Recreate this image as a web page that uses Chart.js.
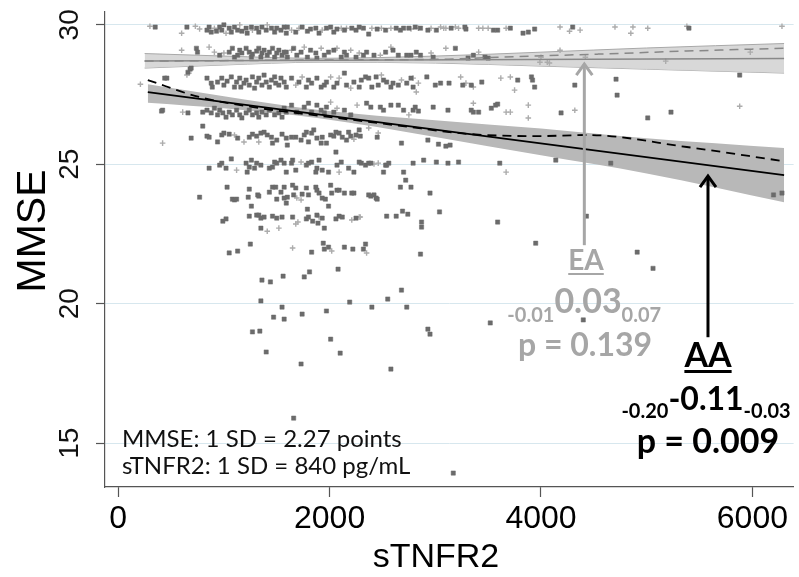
<!DOCTYPE html>
<html lang="en">
<head>
<meta charset="UTF-8">
<title>MMSE vs sTNFR2</title>
<script src="https://cdn.jsdelivr.net/npm/chart.js@4"></script>
<style>
    * { margin: 0; padding: 0; box-sizing: border-box; }
    body { background: #fff; }
    .chart-box { width: 799px; height: 577px; }
</style>
</head>
<body>
<div class="chart-box"><canvas id="mmseChart" width="799" height="577"></canvas></div>
<script>
// axis ranges and ticks
const xMin = -125, xMax = 6390;
const yMin = 13.43, yMax = 30.46;
const xTicks = [0, 2000, 4000, 6000];
const yTicks = [15, 20, 25, 30];

// AA participants (dark squares), grouped by MMSE row
const aaRow30 = [[350,29.92],[650,29.92],[840,29.81],[860,29.92],[880,29.74],[930,29.77],[960,29.92],[980,29.81],[1000,30.0],[1050,29.88],[1070,29.74],[1100,29.92],[1130,29.81],[1170,29.77],[1210,29.88],[1220,29.7],[1260,29.92],[1310,29.88],[1330,29.74],[1360,29.92],[1400,29.81],[1450,29.88],[1480,29.74],[1500,29.88],[1540,29.81],[1570,29.92],[1590,29.7],[1600,29.92],[1680,29.74],[1740,29.92],[1790,29.77],[1820,29.85],[1870,29.88],[1900,29.7],[1970,29.88],[2010,29.92],[2040,29.74],[2070,29.85],[2140,29.81],[2210,29.88],[2250,29.81],[2280,29.92],[2320,29.88],[2370,29.67],[2450,29.85],[2530,29.81],[2630,29.88],[2670,29.81],[2700,29.88],[2750,29.88],[2810,29.92],[2860,29.88],[2930,29.81],[3010,29.81],[3150,29.88],[3280,29.92],[3290,29.85],[3550,29.81],[3590,29.81],[3710,29.88],[3830,29.7],[3880,29.74],[3940,29.85],[4300,29.92],[5400,29.88]];
const aaRow29 = [[740,29.16],[750,29.02],[960,28.91],[1050,29.02],[1080,29.16],[1100,28.84],[1130,28.91],[1150,29.09],[1170,28.99],[1210,29.16],[1240,29.02],[1260,28.84],[1270,28.95],[1310,29.06],[1330,29.16],[1350,28.84],[1360,28.99],[1380,29.09],[1410,28.91],[1430,29.02],[1460,29.16],[1480,28.84],[1500,28.99],[1520,29.09],[1550,28.91],[1570,29.02],[1590,29.02],[1600,28.84],[1660,29.16],[1690,28.91],[1730,29.02],[1790,28.84],[1820,29.09],[1870,28.99],[1880,28.81],[1950,28.91],[1990,29.02],[2040,29.09],[2110,28.84],[2140,29.02],[2160,28.91],[2250,28.84],[2320,28.91],[2350,29.02],[2420,28.91],[2530,29.02],[2600,29.09],[2650,28.91],[2730,28.91],[2770,28.91],[2820,29.02],[2860,28.91],[2980,28.84],[3190,29.16],[3310,28.81],[3360,28.91],[3470,28.84],[3500,28.81]];
const aaRow28 = [[440,28.09],[460,28.09],[660,28.3],[680,28.41],[690,28.45],[840,28.09],[880,27.91],[890,27.77],[940,27.95],[980,28.09],[1000,27.84],[1030,27.98],[1070,28.13],[1100,27.77],[1120,27.95],[1150,28.09],[1160,27.77],[1190,27.91],[1210,28.02],[1240,27.84],[1270,28.13],[1290,27.73],[1310,27.95],[1330,28.09],[1360,27.84],[1380,28.2],[1400,27.95],[1430,27.77],[1450,28.02],[1480,28.13],[1490,27.91],[1520,27.84],[1540,28.09],[1570,27.95],[1590,27.77],[1640,28.09],[1710,27.95],[1780,27.77],[1800,28.02],[1830,27.91],[1880,28.09],[1920,27.77],[1950,27.84],[1970,27.95],[2040,27.77],[2070,27.91],[2140,28.27],[2160,27.84],[2230,27.95],[2280,27.77],[2300,28.02],[2340,28.13],[2370,28.09],[2400,27.77],[2440,28.13],[2460,27.84],[2510,28.02],[2540,27.95],[2580,27.77],[2600,27.91],[2650,27.84],[2730,27.91],[2770,28.09],[2790,27.77],[2920,28.13],[3000,27.84],[3050,27.91],[3130,27.91],[3260,27.84],[3340,27.84],[3440,27.95],[3780,28.02],[3910,28.13],[3920,28.02],[3940,27.77],[4320,27.84],[4710,28.05],[4720,27.48],[5880,28.2]];
const aaRow27 = [[410,26.91],[420,26.94],[660,26.84],[800,26.87],[840,26.94],[880,26.84],[910,27.01],[940,26.77],[960,26.94],[990,26.84],[1020,26.69],[1050,26.87],[1080,26.77],[1120,26.94],[1150,26.77],[1170,26.66],[1210,26.84],[1240,26.94],[1270,26.77],[1310,26.84],[1330,26.69],[1360,26.87],[1400,26.77],[1430,26.94],[1480,26.77],[1520,26.84],[1550,26.69],[1570,27.01],[1590,26.87],[1640,27.12],[1690,26.87],[1760,27.05],[1800,27.19],[1830,26.87],[1880,27.12],[1920,26.94],[1950,26.84],[1970,27.05],[2040,26.87],[2140,26.94],[2200,26.77],[2350,27.19],[2390,27.05],[2480,27.05],[2510,26.94],[2580,27.12],[2650,27.12],[2700,26.94],[2790,26.94],[2810,27.05],[2840,26.91],[2980,27.05],[3120,26.94],[3340,26.94],[3360,26.87],[3410,26.87],[3530,27.01],[3570,27.12],[3590,27.16],[4190,26.84],[5010,26.66],[5230,26.87]];
const aaRow26 = [[690,25.94],[800,26.37],[840,26.01],[860,25.97],[940,25.8],[980,26.05],[1000,26.12],[1050,26.08],[1130,25.94],[1240,25.97],[1270,26.08],[1310,26.01],[1350,26.12],[1380,26.15],[1410,26.05],[1450,25.97],[1460,25.76],[1500,25.87],[1550,26.08],[1590,25.94],[1600,25.69],[1640,25.97],[1680,25.97],[1730,25.87],[1760,26.05],[1780,26.15],[1800,25.8],[1830,26.12],[1850,26.23],[1880,25.94],[1920,25.76],[1930,25.97],[1970,25.76],[2010,26.05],[2040,26.01],[2060,26.15],[2090,26.12],[2120,25.97],[2160,25.87],[2180,26.15],[2200,26.01],[2250,26.05],[2280,26.23],[2290,26.01],[2450,25.97],[2680,25.76],[2930,25.87],[3030,25.72],[3100,25.65],[3140,25.69]];
const aaRow25 = [[860,24.86],[960,24.97],[980,25.04],[1020,24.86],[1070,25.19],[1210,25.04],[1220,24.72],[1240,24.9],[1260,25.15],[1290,24.86],[1310,25.04],[1350,24.97],[1430,24.86],[1460,24.9],[1480,25.08],[1500,25.04],[1540,25.15],[1570,25.04],[1590,24.72],[1640,25.04],[1650,25.15],[1680,24.79],[1780,24.97],[1800,25.04],[1830,25.08],[1870,24.72],[1880,24.86],[1900,25.15],[1930,24.79],[1990,24.72],[2060,25.44],[2070,24.97],[2110,25.08],[2180,24.86],[2230,24.72],[2280,25.08],[2300,25.04],[2340,24.97],[2370,25.04],[2390,25.04],[2510,24.72],[2530,24.97],[2540,24.97],[2560,25.04],[2700,24.72],[2790,25.04],[2890,25.15],[3010,25.08],[3120,25.04],[3220,25.08],[3610,25.04],[4140,25.15],[4660,25.04]];
const aaRow24 = [[770,23.82],[1030,24.18],[1080,23.75],[1100,23.72],[1120,23.75],[1230,23.82],[1240,24.11],[1260,23.5],[1320,23.9],[1330,23.86],[1430,24.0],[1460,24.18],[1490,24.18],[1500,23.75],[1540,24.0],[1570,24.18],[1570,23.79],[1590,23.61],[1600,23.82],[1650,24.25],[1660,23.9],[1680,24.15],[1740,23.93],[1780,24.15],[1790,23.39],[1800,23.9],[1870,24.18],[1880,24.07],[1900,23.97],[1930,23.79],[1960,23.75],[1990,23.5],[2010,24.25],[2020,23.97],[2070,24.07],[2090,24.07],[2140,23.97],[2210,23.97],[2230,23.97],[2370,23.9],[2390,23.86],[2420,23.9],[2440,23.79],[2450,23.75],[2670,24.18],[2720,24.43],[2770,24.18],[2950,23.97],[6200,23.9],[6280,23.97]];
const aaRow23 = [[990,22.96],[1020,23.04],[1240,23.14],[1310,23.18],[1330,23.18],[1350,23.07],[1350,22.71],[1380,23.11],[1460,23.14],[1500,23.07],[1550,23.11],[1650,23.11],[1780,23.04],[1800,23.11],[1840,22.96],[1880,23.18],[1890,22.89],[1930,23.07],[1950,22.71],[2060,23.04],[2090,23.14],[2120,23.11],[2250,23.07],[2540,23.14],[2630,23.14],[2690,23.32],[2740,23.21],[2870,22.93],[2870,22.75],[3040,23.29],[3590,22.93],[4430,23.14]];
const aaRow22 = [[1050,21.82],[1130,21.89],[1250,22.14],[1830,21.85],[1940,22.17],[1950,21.96],[1990,22.03],[2140,22.03],[2220,21.96],[2320,21.96],[2340,22.14],[2860,21.78],[3950,22.17],[4910,21.85]];
const aaRow21 = [[1360,20.85],[1440,20.78],[1560,20.99],[1760,20.96],[1810,21.14],[2080,21.24],[5060,21.27]];
const aaRow20 = [[1350,20.1],[1470,19.52],[1550,19.88],[1570,19.45],[1740,19.63],[1970,19.74],[2190,20.06],[2400,19.88],[2550,20.17],[2680,20.49],[2730,19.88],[3520,19.31],[4400,19.42]];
const aaLowRows = [[1270,18.99],[1340,19.02],[2010,18.73],[2930,19.09],[2950,18.91],[1400,18.27],[2100,18.23],[1730,17.84],[2580,17.66],[1660,15.9],[3170,13.93]];

// EA participants (light crosses)
const eaRow30 = [[300,29.95],[600,29.7],[730,29.95],[770,29.85],[910,29.88],[1020,29.7],[1150,30.0],[1270,29.81],[1410,30.0],[1640,29.81],[1710,29.88],[1930,29.81],[2110,29.88],[2160,29.88],[2400,29.88],[2490,29.88],[2580,29.88],[2770,29.85],[2840,29.88],[2960,29.88],[3050,29.92],[3080,29.88],[3100,29.88],[3190,29.92],[3220,29.88],[3410,29.88],[3450,29.88],[3500,29.88],[3670,29.88],[4180,29.92],[4270,29.77],[4370,29.81],[4700,29.92],[4850,29.7],[4870,29.92],[5010,29.88],[5380,29.95],[6280,29.95]];
const eaRow29 = [[600,29.09],[860,29.2],[910,29.02],[1000,28.99],[1640,29.09],[1760,29.2],[1920,29.16],[2070,29.16],[2200,29.09],[2280,28.99],[2480,28.91],[2580,29.2],[2960,28.99],[3100,29.16],[3410,29.02],[3990,28.66],[4000,28.84],[4060,28.66],[4080,28.63],[4180,29.09],[4420,28.84],[5180,28.7],[5980,29.02]];
const eaRow28 = [[210,27.87],[650,28.2],[670,28.27],[1680,27.84],[1740,28.13],[2010,28.13],[2090,28.09],[2200,27.73],[2490,28.2],[2680,28.02],[2790,28.09],[2820,27.59],[2840,27.91],[3240,28.13],[3290,27.91],[3360,27.77],[3620,28.09],[3710,28.13],[3750,27.66]];
const eaRow27 = [[610,26.87],[2010,27.23],[2070,27.01],[2260,27.12],[2750,26.77],[3360,27.19],[3670,26.87],[3710,26.87],[3880,27.12],[3880,26.66],[4320,26.94],[5880,27.08]];
const eaRow26 = [[420,25.76],[1100,26.05],[1190,25.8],[1330,25.8],[2230,25.9],[2260,26.05],[2370,26.3],[2460,26.12]];
const eaRow25 = [[1120,24.79],[1730,25.08],[2090,24.72],[2420,25.01],[2460,25.04],[3670,24.72]];
const eaRow24 = [[1690,23.79],[1730,23.72]];
const eaRow23 = [[1410,22.6],[1520,22.71],[1680,22.86],[1700,22.93],[1900,23.11],[2210,23.0],[2280,23.11],[2290,23.11]];
const eaRow22 = [[1650,22.0],[2020,21.89],[2350,21.82]];

// fitted lines (solid), lowess curves (dashed) and 95% bands
const aaFitX = [280, 6300];
const aaFitY = [27.59, 24.61];
const aaLowessX = [280, 770, 1330, 1990, 2650, 3340, 3970, 4440, 5380, 6300];
const aaLowessY = [28.02, 27.41, 27.02, 26.70, 26.39, 26.08, 26.01, 26.05, 25.62, 25.11];
const aaBandX = [280, 1000, 1900, 3000, 4000, 5000, 6300];
const aaBandHi = [27.87, 27.44, 26.95, 26.58, 26.28, 25.93, 25.58];
const aaBandLo = [27.21, 27.01, 26.65, 25.98, 25.32, 24.67, 23.64];

const eaFitX = [250, 6300];
const eaFitY = [28.70, 28.79];
const eaLowessX = [250, 1990, 3120, 3590, 4540, 5380, 6300];
const eaLowessY = [28.70, 28.74, 28.77, 28.84, 28.95, 29.06, 29.16];
const eaBandX = [250, 1000, 1900, 3000, 4000, 5000, 6300];
const eaBandHi = [28.97, 28.88, 28.80, 28.88, 29.02, 29.17, 29.33];
const eaBandLo = [28.45, 28.56, 28.66, 28.63, 28.52, 28.41, 28.27];

// arrows: x, from y, to y
const eaArrow = [4410, 22.1, 28.63];
const aaArrow = [5580, 18.8, 24.61];

const pairs = (xs, ys) => xs.map((x, i) => ({ x: x, y: ys[i] }));
const toPoints = rows => rows.map(([x, y]) => ({ x: x, y: y }));

const aaPoints = toPoints([].concat(aaRow30, aaRow29, aaRow28, aaRow27, aaRow26, aaRow25, aaRow24, aaRow23, aaRow22, aaRow21, aaRow20, aaLowRows));
const eaPoints = toPoints([].concat(eaRow30, eaRow29, eaRow28, eaRow27, eaRow26, eaRow25, eaRow24, eaRow23, eaRow22));

const GREY_TXT = '#a6a6a6';

function drawArrow(ctx, x, yFrom, yTo, color) {
    ctx.save();
    ctx.strokeStyle = color;
    ctx.lineWidth = 3;
    ctx.beginPath();
    ctx.moveTo(x, yFrom);
    ctx.lineTo(x, yTo + 1);
    ctx.stroke();
    ctx.beginPath();
    ctx.moveTo(x - 8, yTo + 12);
    ctx.lineTo(x, yTo + 1);
    ctx.lineTo(x + 8, yTo + 12);
    ctx.stroke();
    ctx.restore();
}

function drawEstimate(ctx, cx, base, mid, lo, hi, midSize, subSize, drop, color) {
    ctx.fillStyle = color;
    ctx.textBaseline = 'alphabetic';
    ctx.font = 'bold ' + midSize + 'px Lato';
    const w = ctx.measureText(mid).width;
    ctx.textAlign = 'center';
    ctx.fillText(mid, cx, base);
    ctx.font = 'bold ' + subSize + 'px Lato';
    ctx.textAlign = 'right';
    ctx.fillText(lo, cx - w / 2, base + drop);
    ctx.textAlign = 'left';
    ctx.fillText(hi, cx + w / 2, base + drop);
}

function drawUnderlined(ctx, text, cx, base, size, color, lw) {
    ctx.fillStyle = color;
    ctx.font = 'bold ' + size + 'px Lato';
    ctx.textAlign = 'center';
    ctx.textBaseline = 'alphabetic';
    ctx.fillText(text, cx, base);
    const w = ctx.measureText(text).width;
    ctx.fillRect(cx - w / 2, base + 3, w, lw);
}

const annotations = {
    id: 'annotations',
    afterDraw(chart) {
        const ctx = chart.ctx;
        const x = chart.scales.x, y = chart.scales.y;
        ctx.save();

        // axis titles
        ctx.fillStyle = '#000';
        ctx.font = '34px "Liberation Sans"';
        ctx.textAlign = 'center';
        ctx.textBaseline = 'alphabetic';
        ctx.fillText('sTNFR2', 436, 567);
        ctx.save();
        ctx.translate(45, 231);
        ctx.rotate(-Math.PI / 2);
        ctx.font = '41px "Liberation Sans"';
        ctx.fillText('MMSE', 0, 0);
        ctx.restore();

        // arrows
        drawArrow(ctx, x.getPixelForValue(eaArrow[0]), y.getPixelForValue(eaArrow[1]), y.getPixelForValue(eaArrow[2]), GREY_TXT);
        drawArrow(ctx, x.getPixelForValue(aaArrow[0]), y.getPixelForValue(aaArrow[1]), y.getPixelForValue(aaArrow[2]), '#000');

        // EA block
        drawUnderlined(ctx, 'EA', 586, 270, 28, GREY_TXT, 2);
        drawEstimate(ctx, 588, 313, '0.03', '-0.01', '0.07', 34, 20, 9, GREY_TXT);
        ctx.font = 'bold 32px Lato';
        ctx.textAlign = 'center';
        ctx.fillText('p = 0.139', 585, 356);

        // AA block
        drawUnderlined(ctx, 'AA', 708, 367, 34, '#000', 3);
        drawEstimate(ctx, 706, 410, '-0.11', '-0.20', '-0.03', 32, 20, 8, '#000');
        ctx.font = 'bold 34px Lato';
        ctx.textAlign = 'center';
        ctx.fillText('p = 0.009', 708, 453);

        // SD note
        ctx.fillStyle = '#111';
        ctx.font = '24px Lato';
        ctx.textAlign = 'left';
        ctx.fillText('MMSE: 1 SD = 2.27 points', 122, 447);
        ctx.fillText('sTNFR2: 1 SD = 840 pg/mL', 122, 474);
        ctx.restore();
    }
};

const lineStyle = { type: 'line', pointRadius: 0, fill: false };

new Chart(document.getElementById('mmseChart'), {
    type: 'scatter',
    data: {
        datasets: [
            Object.assign({}, lineStyle, { label: 'AA fit', data: pairs(aaFitX, aaFitY), borderColor: '#000', borderWidth: 1.8, order: 1 }),
            Object.assign({}, lineStyle, { label: 'AA lowess', data: pairs(aaLowessX, aaLowessY), borderColor: '#000', borderWidth: 1.8, borderDash: [9, 6], cubicInterpolationMode: 'monotone', order: 1 }),
            Object.assign({}, lineStyle, { label: 'EA fit', data: pairs(eaFitX, eaFitY), borderColor: '#888', borderWidth: 1.5, order: 1 }),
            Object.assign({}, lineStyle, { label: 'EA lowess', data: pairs(eaLowessX, eaLowessY), borderColor: '#888', borderWidth: 1.5, borderDash: [9, 6], cubicInterpolationMode: 'monotone', order: 1 }),
            { label: 'AA', data: aaPoints, pointStyle: 'rect', pointRadius: 3, backgroundColor: '#6b6b6b', borderColor: '#6b6b6b', borderWidth: 0.5, order: 3 },
            { label: 'EA', data: eaPoints, pointStyle: 'cross', pointRadius: 2.8, borderColor: '#acacac', borderWidth: 1.4, order: 4 },
            Object.assign({}, lineStyle, { label: 'AA CI hi', data: pairs(aaBandX, aaBandHi), fill: '+1', backgroundColor: '#b8b8b8', borderWidth: 0, cubicInterpolationMode: 'monotone', order: 6 }),
            Object.assign({}, lineStyle, { label: 'AA CI lo', data: pairs(aaBandX, aaBandLo), borderWidth: 0, cubicInterpolationMode: 'monotone', order: 6 }),
            Object.assign({}, lineStyle, { label: 'EA CI hi', data: pairs(eaBandX, eaBandHi), fill: '+1', backgroundColor: 'rgba(212,212,212,0.9)', borderColor: '#a8a8a8', borderWidth: 1, cubicInterpolationMode: 'monotone', order: 5 }),
            Object.assign({}, lineStyle, { label: 'EA CI lo', data: pairs(eaBandX, eaBandLo), borderColor: '#a8a8a8', borderWidth: 1, cubicInterpolationMode: 'monotone', order: 5 })
        ]
    },
    options: {
        responsive: false,
        devicePixelRatio: 1,
        animation: false,
        layout: { padding: { top: 12, right: 2, left: 0, bottom: 0 } },
        plugins: { legend: { display: false }, tooltip: { enabled: false } },
        scales: {
            x: {
                type: 'linear', min: xMin, max: xMax,
                afterBuildTicks: s => { s.ticks = xTicks.map(v => ({ value: v })); },
                afterFit: s => { s.height = 90; s.paddingLeft = 0; s.paddingRight = 0; },
                grid: { drawOnChartArea: false, tickLength: 10, tickColor: '#555', tickWidth: 1.2 },
                border: { color: '#555', width: 1.2 },
                ticks: { font: { family: 'Liberation Sans', size: 32 }, color: '#000', padding: 3, maxRotation: 0, callback: v => String(v) }
            },
            y: {
                type: 'linear', min: yMin, max: yMax,
                afterBuildTicks: s => { s.ticks = yTicks.map(v => ({ value: v })); },
                afterFit: s => { s.width = 105; s.paddingTop = 0; s.paddingBottom = 0; },
                grid: { color: '#d7e7ee', tickLength: 9, tickColor: '#555', tickWidth: 1.2 },
                border: { color: '#555', width: 1.2 },
                ticks: { font: { family: 'Liberation Sans', size: 28 }, color: '#111', minRotation: 90, maxRotation: 90, crossAlign: 'center', padding: 10, callback: v => String(v) }
            }
        }
    },
    plugins: [annotations]
});
</script>
</body>
</html>
